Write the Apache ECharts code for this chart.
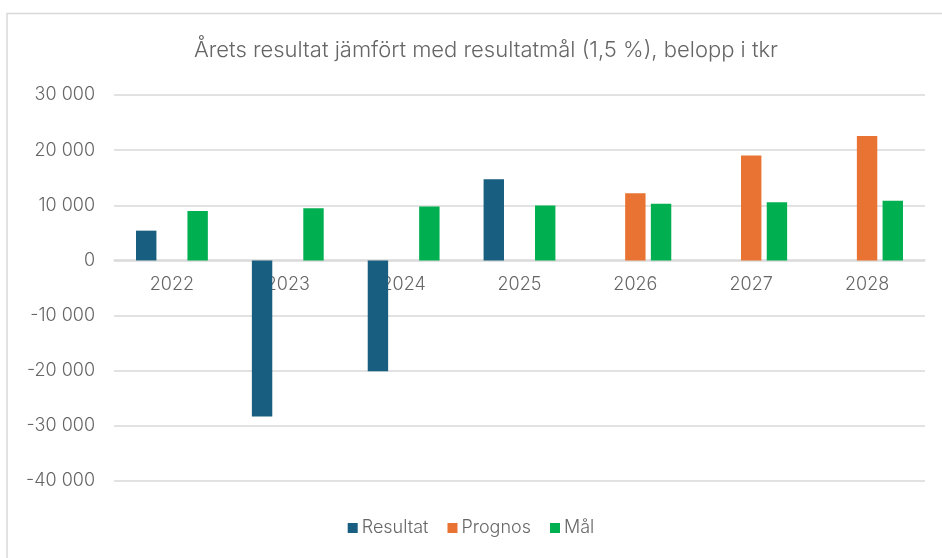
<!DOCTYPE html>
<html>
<head>
<meta charset="utf-8">
<script src="https://cdn.jsdelivr.net/npm/echarts@6/dist/echarts.min.js"></script>
<style>
html,body{margin:0;padding:0;background:#fff;}
#chart{width:942px;height:558px;}
</style>
</head>
<body>
<div id="chart"></div>
<script>
const categories = ['2022','2023','2024','2025','2026','2027','2028'];
const resultat = [5400, -28300, -20100, 14700, null, null, null];
const prognos = [null, null, null, null, 12200, 19050, 22550];
const mal = [8950, 9440, 9800, 9950, 10280, 10570, 10830];
const yTicks = { min: -40000, max: 30000, interval: 10000 };
const titleText = 'Årets resultat jämfört med resultatmål (1,5 %), belopp i tkr';
const seriesNames = ['Resultat', 'Prognos', 'Mål'];

const FONT = 'Inter, "Open Sans", sans-serif';
const TXT = '#666666';

function fmt(v){
  const neg = v < 0;
  const s = Math.abs(v).toString().replace(/\B(?=(\d{3})+(?!\d))/g, ' ');
  return (neg ? '-' : '') + s;
}

const chart = echarts.init(document.getElementById('chart'), null, {renderer:'canvas'});
chart.setOption({
  animation: false,
  backgroundColor: '#fff',
  graphic: [{
    type: 'rect',
    shape: { x: 7, y: 13.5, width: 960, height: 600 },
    style: { fill: 'none', stroke: '#d9d9d9', lineWidth: 1.5 },
    silent: true, z: -1
  }],
  title: {
    text: titleText,
    left: 481, top: 34, textAlign: 'center',
    textStyle: { fontFamily: FONT, fontWeight: 300, fontSize: 22, color: TXT }
  },
  legend: {
    bottom: 16, left: 'center',
    itemWidth: 10, itemHeight: 10, itemGap: 19,
    icon: 'rect',
    textStyle: { fontFamily: FONT, fontWeight: 300, fontSize: 18, color: TXT, padding: [0,0,0,-1] },
    data: seriesNames
  },
  grid: { left: 114, right: 17, top: 95, bottom: 77, containLabel: false },
  xAxis: {
    type: 'category',
    data: categories,
    offset: -221,
    axisLine: { onZero: false, lineStyle: { color: '#d9d9d9', width: 1.5 } },
    axisTick: { show: false },
    axisLabel: { fontFamily: FONT, fontWeight: 300, fontSize: 18, color: TXT, margin: 16 }
  },
  yAxis: {
    type: 'value',
    min: yTicks.min, max: yTicks.max, interval: yTicks.interval,
    axisLine: { show: false },
    axisTick: { show: false },
    splitLine: { lineStyle: { color: '#d9d9d9', width: 1.5 } },
    axisLabel: { fontFamily: FONT, fontWeight: 300, fontSize: 18, color: TXT, margin: 19, formatter: fmt }
  },
  series: [
    { name: seriesNames[0], type: 'bar', data: resultat, itemStyle: { color: '#185E80' }, barGap: '26%', barCategoryGap: '38%', z: 3 },
    { name: seriesNames[1], type: 'bar', data: prognos, itemStyle: { color: '#E97333' }, z: 3 },
    { name: seriesNames[2], type: 'bar', data: mal, itemStyle: { color: '#00AF50' }, z: 3 }
  ]
});
</script>
</body>
</html>
